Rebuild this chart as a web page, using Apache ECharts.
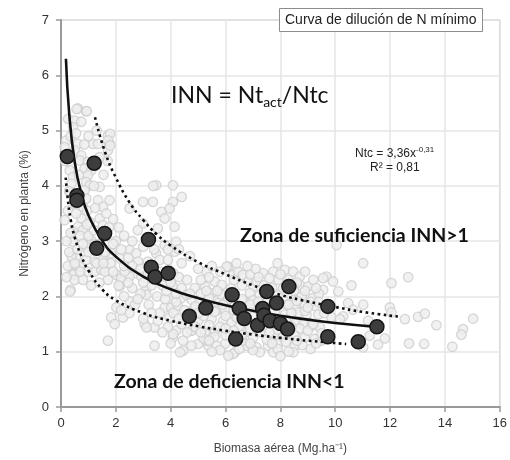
<!DOCTYPE html>
<html>
<head>
<meta charset="utf-8">
<script src="https://cdn.jsdelivr.net/npm/echarts@6/dist/echarts.min.js"></script>
<style>
html,body{margin:0;padding:0;background:#fff;}
#chart{width:510px;height:460px;}
</style>
</head>
<body>
<div id="chart"></div>
<script>
// ---- data ----
var xTicks = [0, 2, 4, 6, 8, 10, 12, 14, 16];
var yTicks = [0, 1, 2, 3, 4, 5, 6, 7];

// grey background observations (x = biomass, y = N %)
var grayX = [
0.62,0.92,0.26,0.50,0.74,0.44,0.19,0.13,0.62,0.50,0.74,0.68,1.17,1.35,1.71,1.77,1.71,1.41,0.98,0.86,1.10,0.38,0.32,0.44,0.98,0.92,1.05,1.41,0.38,0.44,
0.86,0.92,1.35,1.77,1.53,0.80,0.50,0.13,0.74,1.05,1.41,1.53,0.62,3.47,4.08,2.99,3.35,4.08,3.96,3.66,3.78,2.99,3.53,4.14,2.50,3.36,4.40,1.79,1.72,1.79,
0.57,0.94,0.44,0.80,0.44,1.10,0.92,0.56,0.92,1.23,1.53,0.44,0.68,0.44,0.50,0.98,1.23,1.47,1.71,2.02,2.20,2.14,0.35,1.83,2.14,2.50,2.74,2.81,3.17,2.69,
2.50,2.93,2.32,3.17,3.47,3.60,3.90,4.20,4.14,3.78,3.11,3.11,4.08,4.38,2.50,2.02,1.83,2.26,1.96,3.05,3.41,3.53,3.78,4.02,4.26,3.96,4.20,4.08,4.45,1.71,
3.41,4.45,0.33,4.34,3.12,0.39,0.51,
6.10,6.28,6.46,6.64,7.37,7.74,8.16,8.47,8.71,5.61,5.86,6.83,7.01,7.13,7.92,8.71,9.01,4.88,5.25,5.49,5.86,6.89,7.25,8.41,8.77,9.19,4.76,5.07,5.73,6.04,
6.83,7.55,8.22,8.53,8.89,9.26,4.82,5.67,5.98,7.80,8.16,8.65,8.95,9.38,4.64,5.00,5.49,5.91,6.22,6.95,8.59,8.83,9.14,9.44,4.76,5.25,5.61,6.71,7.31,7.74,
8.89,9.26,5.00,5.37,5.98,6.77,7.13,7.55,7.92,8.53,6.34,7.25,7.74,8.47,
11.02,10.05,9.68,9.92,10.59,9.56,10.11,12.05,12.66,11.02,10.47,10.65,10.29,9.86,10.17,11.20,11.99,12.05,12.54,13.02,13.27,13.69,15.03,14.66,14.60,11.81,11.56,12.69,13.24,14.27,
11.26,11.02,9.50,9.56,
4.70,5.31,6.04,4.09,4.40,4.58,4.09,4.76,5.31,4.76,6.28,5.67,
5.10,5.40,5.80,6.90,7.10,7.60,8.00,8.30,8.60,9.20,5.10,5.70,6.20,6.60,7.40,7.70,8.10,8.90,9.40,4.90,5.40,6.10,6.60,7.00,7.90,8.60,9.10,5.20,5.60,6.00,
6.40,7.00,7.50,8.40,8.90,9.60,4.90,5.40,5.80,6.50,6.90,7.30,7.90,8.20,8.70,9.00,5.60,6.00,6.30,7.00,7.50,8.10,8.50,9.50,5.20,6.60,8.20,8.80,9.10,7.00,
7.90,5.80,6.10,8.00,
0.20,0.30,0.25,0.60,0.70,0.80,1.00,1.20,1.40,1.60,1.80,1.30,1.60,1.90,0.80,1.10,1.40,
2.30,2.60,2.90,3.30,3.60,3.70,4.00,4.30,4.40,2.60,2.90,3.50,3.80,4.20,2.30,2.70,3.20,3.60,4.10,4.40,3.90,4.50,
1.90,2.10,2.30,2.00,2.60,2.80,
0.15,0.35,0.55,0.85,1.00,1.30,0.30,0.65,1.20,1.55,1.70,0.25,0.55,0.95,1.25,1.65,0.35,0.95,1.75,0.50,1.00,1.25,1.90,0.70,1.55,0.20,
2.20,2.45,3.00,3.40,3.90,4.30,2.10,2.45,3.00,3.40,3.85,4.20,2.50,3.00,3.30,4.30,3.70,4.00,2.20,2.80,
4.60,5.00,5.50,6.40,6.80,7.90,8.90,4.70,5.30,6.30,7.20,8.50,9.30,5.00,5.90,6.30,6.90,7.20,8.30,9.00,9.40,4.60,5.10,6.00,6.60,7.60,8.40,9.20,5.40,6.90,
7.70,8.60,9.30,6.50,8.30,5.50
];
var grayY = [
5.40,5.35,5.21,5.18,5.16,5.06,4.82,4.70,4.76,4.64,4.55,4.46,4.76,4.76,4.91,4.76,4.64,4.52,4.43,4.31,4.28,4.40,4.28,4.16,4.19,4.07,4.01,3.98,4.04,3.86,
3.92,3.77,3.74,3.74,3.62,3.62,3.68,3.38,3.41,3.35,3.41,3.29,3.26,4.01,4.01,3.71,3.71,3.71,3.59,3.53,3.41,3.32,3.23,3.26,3.59,4.00,3.80,4.94,4.82,4.73,
5.39,5.35,3.17,3.20,2.99,3.02,2.90,2.72,2.66,2.63,2.66,2.48,2.54,2.39,2.30,2.45,2.45,2.48,2.30,2.39,2.33,2.18,2.12,2.78,2.69,2.84,2.78,2.63,2.63,2.42,
2.36,2.36,2.45,2.42,2.78,2.66,2.66,2.99,2.81,2.93,2.12,2.03,2.18,1.97,1.91,1.80,1.62,1.62,1.50,1.50,1.44,1.56,1.80,1.80,1.83,1.62,1.38,1.26,1.20,1.20,
1.11,1.02,2.09,0.99,1.44,2.72,2.57,
2.54,2.39,2.45,2.39,2.42,2.45,2.48,2.45,2.36,2.27,2.21,2.27,2.18,2.27,2.30,2.21,2.18,2.15,2.18,2.06,2.03,2.06,2.03,2.00,2.00,1.97,1.94,1.91,1.88,1.91,
1.88,1.91,1.85,1.83,1.83,1.83,1.76,1.74,1.76,1.74,1.67,1.71,1.67,1.67,1.59,1.56,1.59,1.56,1.53,1.53,1.53,1.50,1.47,1.44,1.38,1.35,1.38,1.35,1.35,1.29,
1.26,1.23,1.14,1.11,1.14,1.11,1.08,1.11,1.14,1.11,0.99,0.99,0.99,0.99,
2.60,2.93,2.36,2.27,2.20,2.12,2.09,2.24,2.35,1.85,1.88,1.76,1.64,1.62,1.59,1.56,1.80,1.71,1.59,1.63,1.69,1.48,1.60,1.41,1.31,1.24,1.13,1.15,1.14,1.09,
1.29,1.08,1.20,2.33,
2.73,2.45,2.54,2.42,2.15,2.03,1.32,1.38,1.20,1.11,0.96,1.11,
2.30,2.35,2.45,2.40,2.50,2.33,2.40,2.30,2.25,2.30,2.05,2.10,2.15,2.20,2.20,2.15,2.15,2.10,2.05,1.82,1.97,1.95,1.95,1.93,2.02,1.92,1.90,1.65,1.72,1.65,
1.62,1.63,1.65,1.70,1.74,1.70,1.45,1.48,1.45,1.45,1.42,1.50,1.40,1.58,1.42,1.38,1.27,1.30,1.38,1.25,1.22,1.27,1.30,1.33,1.24,1.20,1.18,1.12,1.05,1.03,
1.05,1.03,0.93,0.92,
3.00,2.80,2.55,2.85,3.10,2.95,3.10,3.20,2.95,2.80,2.60,2.60,2.45,2.45,2.30,2.20,2.25,
2.55,2.55,2.50,2.20,2.45,2.20,2.25,2.35,2.60,2.15,2.05,2.00,1.95,1.90,2.00,1.85,1.85,1.70,1.70,1.50,1.45,1.75,
3.40,3.25,3.10,3.00,3.00,3.20,
4.45,4.90,4.95,4.75,4.90,5.00,3.90,4.20,4.00,4.20,4.45,3.55,3.50,3.55,3.60,3.50,3.15,3.30,3.25,2.60,2.80,2.95,2.95,2.45,2.60,2.35,
2.85,2.70,2.90,2.85,2.85,2.85,2.20,2.25,2.25,2.45,2.10,2.05,1.70,1.60,1.70,1.60,1.35,1.15,1.75,1.95,
2.30,2.50,2.55,2.60,2.55,2.60,2.45,2.05,2.10,2.30,2.35,2.10,2.15,1.70,1.85,1.75,1.85,1.90,1.85,1.80,1.90,1.35,1.35,1.42,1.30,1.35,1.45,1.50,1.20,1.15,
1.15,1.20,1.15,1.05,1.00,1.00
];

// dark highlighted observations
var darkX = [0.23,0.58,0.58,1.21,1.30,1.59,3.19,3.29,3.43,3.91,4.68,5.28,6.24,6.37,6.50,6.68,7.17,7.35,7.40,7.50,7.62,7.86,8.00,8.26,8.31,9.73,9.73,10.84,11.52];
var darkY = [4.53,3.82,3.74,4.41,2.87,3.14,3.03,2.53,2.35,2.42,1.64,1.79,2.03,1.23,1.78,1.60,1.48,1.78,1.66,2.09,1.56,1.88,1.51,1.41,2.18,1.82,1.27,1.18,1.45];

// critical (minimum) dilution curve
var curveX = [0.18,0.30,0.50,0.75,1.00,1.50,2.00,3.00,4.00,5.00,6.00,7.00,8.00,9.00,10.00,11.50];
var curveY = [6.30,5.30,4.43,3.84,3.47,3.01,2.72,2.36,2.13,1.97,1.84,1.74,1.65,1.58,1.52,1.45];

// upper dotted envelope
var upperX = [1.24,1.60,2.00,2.50,3.00,3.50,4.00,5.00,6.00,7.00,8.00,9.00,10.00,11.00,12.40];
var upperY = [5.24,4.62,4.15,3.70,3.38,3.12,2.92,2.62,2.40,2.20,2.03,1.91,1.81,1.72,1.63];

// lower dotted envelope
var lowerX = [0.17,0.25,0.35,0.50,0.75,1.00,1.50,2.00,3.00,4.00,5.00,6.00,7.00,8.00,9.00,10.40];
var lowerY = [4.15,3.75,3.40,3.07,2.72,2.47,2.13,1.93,1.70,1.56,1.46,1.38,1.31,1.25,1.20,1.14];

function zip(a, b) { return a.map(function (v, i) { return [v, b[i]]; }); }

var chart = echarts.init(document.getElementById('chart'), null, {renderer: 'canvas'});
var axisFont = 'Liberation Sans, Arial, sans-serif';
var dotted = {color: '#111', width: 2.6, type: [2.6, 3.4], cap: 'butt'};

chart.setOption({
  animation: false,
  backgroundColor: '#fff',
  title: {
    text: 'Curva de dilución de N mínimo',
    left: 279, top: 8,
    padding: [5, 6, 5, 6],
    borderColor: '#8c8c8c', borderWidth: 1,
    backgroundColor: '#fff',
    textStyle: {fontFamily: axisFont, fontSize: 14, fontWeight: 'normal', color: '#222'}
  },
  grid: {left: 61, right: 10, top: 20, bottom: 50, show: true, borderColor: '#a8a8a8', borderWidth: 1},
  xAxis: {
    type: 'value', min: xTicks[0], max: xTicks[xTicks.length - 1], interval: 2,
    name: 'Biomasa aérea (Mg.ha⁻¹)', nameLocation: 'middle', nameGap: 36,
    nameTextStyle: {fontFamily: axisFont, fontSize: 12, color: '#444'},
    axisLine: {onZero: false, lineStyle: {color: '#999', width: 2}},
    axisTick: {show: true, length: 5, lineStyle: {color: '#999', width: 1.5}},
    axisLabel: {fontFamily: axisFont, fontSize: 13, color: '#333', margin: 10},
    splitLine: {show: true, lineStyle: {color: '#e6e6e6', width: 1.5}}
  },
  yAxis: {
    type: 'value', min: yTicks[0], max: yTicks[yTicks.length - 1], interval: 1,
    name: 'Nitrógeno en planta (%)', nameLocation: 'middle', nameGap: 30,
    nameTextStyle: {fontFamily: axisFont, fontSize: 12, color: '#444'},
    axisLine: {show: true, lineStyle: {color: '#999', width: 2}},
    axisTick: {show: true, length: 5, lineStyle: {color: '#999', width: 1.5}},
    axisLabel: {fontFamily: axisFont, fontSize: 13, color: '#333', margin: 12},
    splitLine: {show: true, lineStyle: {color: '#e6e6e6', width: 1.5}}
  },
  series: [
    {
      type: 'scatter', data: zip(grayX, grayY), symbolSize: 9.5, z: 1,
      itemStyle: {color: '#ededed', borderColor: '#cdcdcd', borderWidth: 1.3}
    },
    {
      type: 'line', data: zip(upperX, upperY), smooth: true, showSymbol: false, z: 3,
      lineStyle: dotted
    },
    {
      type: 'line', data: zip(lowerX, lowerY), smooth: true, showSymbol: false, z: 3,
      lineStyle: dotted
    },
    {
      type: 'line', data: zip(curveX, curveY), smooth: true, showSymbol: false, z: 4,
      lineStyle: {color: '#111', width: 2.6}
    },
    {
      type: 'scatter', data: zip(darkX, darkY), symbolSize: 14, z: 5,
      itemStyle: {color: '#3d3d3d', borderColor: '#151515', borderWidth: 1.5, opacity: 1}
    }
  ],
  graphic: [
    {
      type: 'text', left: 171, top: 84, z: 10,
      style: {
        text: '{a|INN = Nt}{s|act}{a|/Ntc}',
        rich: {
          a: {fontFamily: 'Lato, sans-serif', fontSize: 23, fill: '#111', color: '#111'},
          s: {fontFamily: 'Lato, sans-serif', fontSize: 14, fill: '#111', color: '#111', padding: [13, 0, 0, 0]}
        }
      }
    },
    {
      type: 'text', left: 355, top: 146, z: 10,
      style: {
        text: '{n|Ntc = 3,36x}{p|-0,31}',
        rich: {
          n: {fontFamily: axisFont, fontSize: 12, fill: '#222', color: '#222'},
          p: {fontFamily: axisFont, fontSize: 8, fill: '#222', color: '#222', padding: [0, 0, 7, 0]}
        }
      }
    },
    {
      type: 'text', left: 370, top: 162, z: 10,
      style: {text: 'R² = 0,81', font: '12px Liberation Sans, Arial, sans-serif', fill: '#222'}
    },
    {
      type: 'text', left: 240, top: 226, z: 10,
      style: {text: 'Zona de suficiencia INN>1', font: 'bold 19.5px Lato, sans-serif', fill: '#111'}
    },
    {
      type: 'text', left: 114, top: 372, z: 10,
      style: {text: 'Zona de deficiencia INN<1', font: 'bold 19.5px Lato, sans-serif', fill: '#111'}
    }
  ]
});
</script>
</body>
</html>
